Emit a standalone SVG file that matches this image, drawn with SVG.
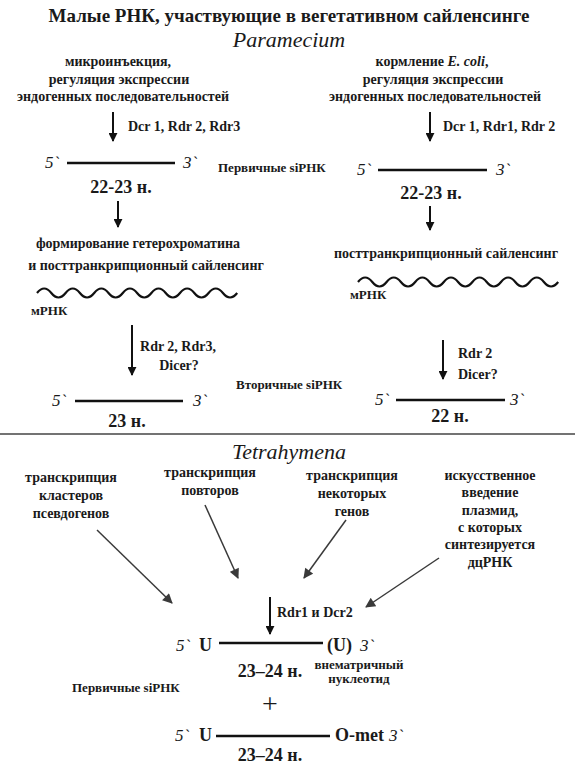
<svg xmlns="http://www.w3.org/2000/svg" width="579" height="768" viewBox="0 0 579 768" font-family="'Liberation Serif','DejaVu Serif',serif">
<defs>
<marker id="ah" viewBox="0 0 10 10" refX="9" refY="5" markerWidth="9" markerHeight="9" markerUnits="userSpaceOnUse" orient="auto">
<path d="M0,0 L10,5 L0,10 z" fill="#111"/>
</marker>
<marker id="ahg" viewBox="0 0 10 10" refX="9" refY="5" markerWidth="12" markerHeight="10" markerUnits="userSpaceOnUse" orient="auto">
<path d="M0,0 L10,5 L0,10 z" fill="#3a3a3a"/>
</marker>
</defs>
<style>
text{font-family:'Liberation Serif','DejaVu Serif',serif;fill:#1a1a1a}
.b{font-weight:bold;font-size:14px}
.c{text-anchor:middle}
.t{font-weight:bold;font-size:19px}
.it{font-style:italic;font-size:22px}
.pr{font-style:italic;font-size:17px}
.n{font-weight:bold;font-size:18px}
.s{font-weight:bold;font-size:13px}
.ln{stroke:#111;stroke-width:2.5;fill:none}
.ar{stroke:#111;stroke-width:2;fill:none;marker-end:url(#ah)}
.ag{stroke:#3a3a3a;stroke-width:1.5;fill:none;marker-end:url(#ahg)}
.wv{stroke:#111;stroke-width:2.2;fill:none}
</style>
<rect width="579" height="768" fill="#fff"/>

<g id="title">
<text class="t c" x="289" y="22">Малые РНК, участвующие в вегетативном сайленсинге</text>
<text class="it c" x="289" y="47">Paramecium</text>
</g>

<g id="connectors">
<line class="ar" x1="113" y1="112" x2="113" y2="141"/>
<line class="ar" x1="430" y1="112" x2="430" y2="141"/>
<line class="ar" x1="118" y1="201" x2="118" y2="227"/>
<line class="ar" x1="430" y1="206" x2="430" y2="230"/>
<line class="ar" x1="132" y1="325" x2="132" y2="375"/>
<line class="ar" x1="443" y1="340" x2="443" y2="379"/>
<line class="ag" x1="97" y1="530" x2="172" y2="603"/>
<line class="ag" x1="205" y1="505" x2="238" y2="578"/>
<line class="ag" x1="346" y1="520" x2="304" y2="578"/>
<line class="ag" x1="439" y1="558" x2="366" y2="607"/>
<line class="ar" x1="270" y1="597" x2="270" y2="634"/>
</g>

<g id="src-left">
<text class="b c" x="118" y="66">микроинъекция,</text>
<text class="b c" x="119" y="84">регуляция экспрессии</text>
<text class="b c" x="123" y="101">эндогенных последовательностей</text>
</g>
<g id="src-right">
<text class="b c" x="432" y="66">кормление <tspan font-style="italic">E. coli</tspan>,</text>
<text class="b c" x="433" y="84">регуляция экспрессии</text>
<text class="b c" x="435" y="101">эндогенных последовательностей</text>
</g>

<g id="enz1">
<text class="b" x="128" y="131">Dcr 1, Rdr 2, Rdr3</text>
<text class="b" x="443" y="131">Dcr 1, Rdr1, Rdr 2</text>
</g>

<g id="primary-left">
<text class="pr" x="45" y="168">5`</text>
<line class="ln" x1="67" y1="163" x2="175" y2="163"/>
<text class="pr" x="183" y="168">3`</text>
<text class="n c" x="121" y="193">22-23 н.</text>
</g>
<g id="primary-label">
<text class="s" x="218" y="172">Первичные siРНК</text>
</g>
<g id="primary-right">
<text class="pr" x="357" y="175">5`</text>
<line class="ln" x1="378" y1="170" x2="487" y2="170"/>
<text class="pr" x="496" y="175">3`</text>
<text class="n c" x="431" y="199">22-23 н.</text>
</g>

<g id="effect-left">
<text class="b c" x="138" y="248">формирование гетерохроматина</text>
<text class="b c" x="146" y="270">и посттранкрипционный сайленсинг</text>
<path class="wv" d="M37,293 q7.15,-9 14.3,0 t14.3,0 t14.3,0 t14.3,0 t14.3,0 t14.3,0 t14.3,0 t14.3,0 t14.3,0 t14.3,0 t14.3,0 t14.3,0 t14.3,0 t14.3,0"/>
<text class="s" x="31" y="315">мРНК</text>
</g>
<g id="effect-right">
<text class="b c" x="446" y="258">посттранкрипционный сайленсинг</text>
<path class="wv" d="M358,282 q7.15,-9 14.3,0 t14.3,0 t14.3,0 t14.3,0 t14.3,0 t14.3,0 t14.3,0 t14.3,0 t14.3,0 t14.3,0 t14.3,0 t14.3,0 t14.3,0 t14.3,0"/>
<text class="s" x="350" y="299">мРНК</text>
</g>

<g id="enz2">
<text class="b c" x="178" y="351">Rdr 2, Rdr3,</text>
<text class="b c" x="179" y="370">Dicer?</text>
<text class="b" x="458" y="358">Rdr 2</text>
<text class="b" x="458" y="379">Dicer?</text>
</g>

<g id="secondary-left">
<text class="pr" x="52" y="406">5`</text>
<line class="ln" x1="75" y1="401" x2="183" y2="401"/>
<text class="pr" x="193" y="406">3`</text>
<text class="n c" x="127" y="427">23 н.</text>
</g>
<g id="secondary-label">
<text class="s" x="236" y="389">Вторичные siРНК</text>
</g>
<g id="secondary-right">
<text class="pr" x="375" y="405">5`</text>
<line class="ln" x1="396" y1="400" x2="505" y2="400"/>
<text class="pr" x="510" y="405">3`</text>
<text class="n c" x="450" y="422">22 н.</text>
</g>

<g id="divider">
<line x1="0" y1="434" x2="575" y2="434" stroke="#444" stroke-width="1.6"/>
<text class="it c" x="289" y="459">Tetrahymena</text>
</g>

<g id="t-src1">
<text class="b c" x="71" y="482">транскрипция</text>
<text class="b c" x="71" y="500">кластеров</text>
<text class="b c" x="71" y="518">псевдогенов</text>
</g>
<g id="t-src2">
<text class="b c" x="210" y="477">транскрипция</text>
<text class="b c" x="210" y="495">повторов</text>
</g>
<g id="t-src3">
<text class="b c" x="352" y="480">транскрипция</text>
<text class="b c" x="352" y="498">некоторых</text>
<text class="b c" x="352" y="516">генов</text>
</g>
<g id="t-src4">
<text class="b c" x="490" y="480">искусственное</text>
<text class="b c" x="490" y="497">введение</text>
<text class="b c" x="490" y="515">плазмид,</text>
<text class="b c" x="490" y="532">с которых</text>
<text class="b c" x="490" y="549">синтезируется</text>
<text class="b c" x="490" y="567">дцРНК</text>
</g>

<g id="t-enz">
<text class="b" x="277" y="617">Rdr1 и Dcr2</text>
</g>

<g id="t-rna1">
<text class="pr" x="176" y="651">5`</text>
<text class="n" x="199" y="651" font-size="19">U</text>
<line class="ln" x1="219" y1="643" x2="323" y2="643"/>
<text class="n" x="327" y="651" font-size="19">(U)</text>
<text class="pr" x="360" y="651">3`</text>
<text class="s c" x="359" y="669">внематричный</text>
<text class="s c" x="359" y="683">нуклеотид</text>
<text class="n c" x="270" y="677">23–24 н.</text>
</g>
<g id="t-label">
<text class="s" x="72" y="692">Первичные siРНК</text>
</g>
<g id="t-plus">
<text class="c" x="270" y="713" font-size="28">+</text>
</g>
<g id="t-rna2">
<text class="pr" x="175" y="741">5`</text>
<text class="n" x="199" y="741" font-size="19">U</text>
<line class="ln" x1="216" y1="736" x2="330" y2="736"/>
<text class="n" x="335" y="741">O-met</text>
<text class="pr" x="389" y="741">3`</text>
<text class="n c" x="270" y="761">23–24 н.</text>
</g>
</svg>
